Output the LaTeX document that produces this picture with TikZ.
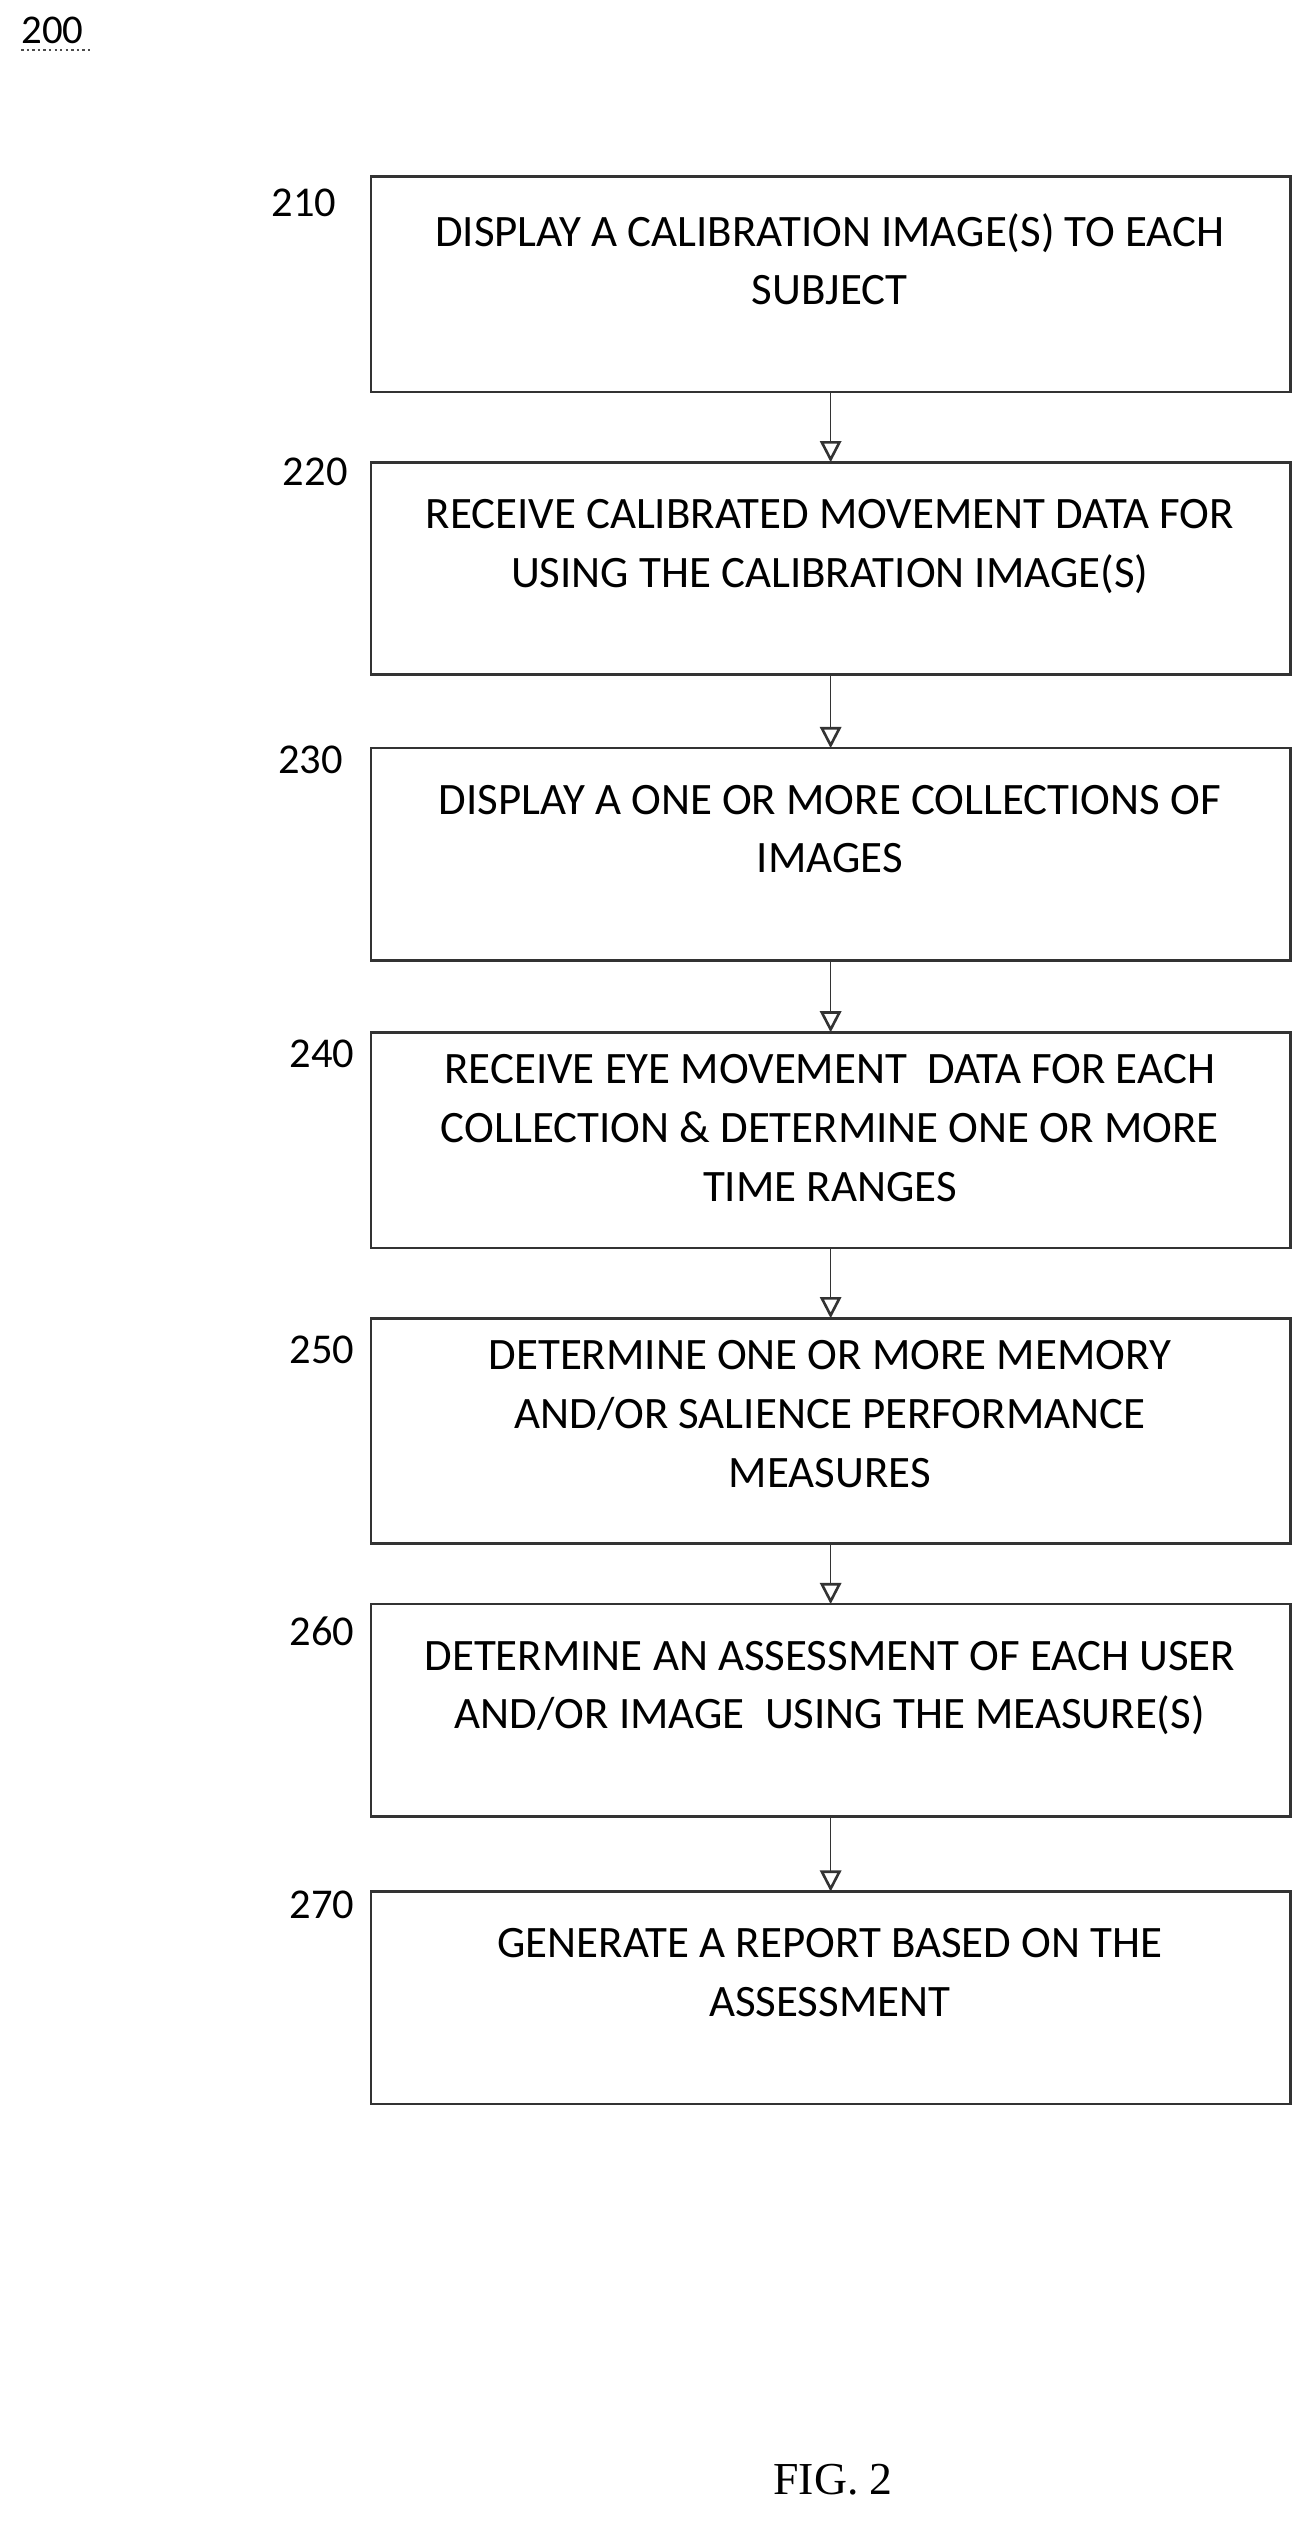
\documentclass[tikz,border=0pt]{standalone}
\usepackage{fontspec}
\setmainfont{Carlito}
\newfontfamily\timesf{Liberation Serif}
\usetikzlibrary{arrows.meta}
\begin{document}
\begin{tikzpicture}[x=1pt,y=-1pt,
  box/.style={draw=black!80,line width=1.6pt,minimum width=563pt,minimum height=#1,anchor=north west,inner sep=0pt,outer sep=0pt},
  txt/.style={align=center,font=\fontsize{27.5}{36}\selectfont,anchor=north},
  lab/.style={font=\fontsize{26}{28}\selectfont,anchor=north},
  arr/.style={draw=black!80,line width=0.9pt,-{Triangle[open,length=13pt,width=13pt,line width=1.6pt]}}]
\useasboundingbox (0,0) rectangle (800,1558);
\node[font=\fontsize{25}{27}\selectfont,anchor=north west,inner sep=0pt] (t) at (13,10) {200};
\draw[black!70,line width=1.4pt,dotted] (t.south west)++(0,4) -- ++(43,0);
\node[box=132pt] (b1) at (227,108) {};
\node[box=130pt] (b2) at (227,283) {};
\node[box=130pt] (b3) at (227,458) {};
\node[box=132pt] (b4) at (227,632) {};
\node[box=138pt] (b5) at (227,807) {};
\node[box=130pt] (b6) at (227,982) {};
\node[box=130pt] (b7) at (227,1158) {};
\node[txt] at (508,127) {DISPLAY A CALIBRATION IMAGE(S) TO EACH\\SUBJECT};
\node[txt] at (508,302) {RECEIVE CALIBRATED MOVEMENT DATA FOR\\USING THE CALIBRATION IMAGE(S)};
\node[txt] at (508,477) {DISPLAY A ONE OR MORE COLLECTIONS OF\\IMAGES};
\node[txt] at (508,642) {RECEIVE EYE MOVEMENT\ \ DATA FOR EACH\\COLLECTION \& DETERMINE ONE OR MORE\\TIME RANGES};
\node[txt] at (508,817) {DETERMINE ONE OR MORE MEMORY\\AND/OR SALIENCE PERFORMANCE\\MEASURES};
\node[txt] at (508,1001) {DETERMINE AN ASSESSMENT OF EACH USER\\AND/OR IMAGE\ \ USING THE MEASURE(S)};
\node[txt] at (508,1177) {GENERATE A REPORT BASED ON THE\\ASSESSMENT};
\node[lab] at (186,112) {210};
\node[lab] at (193,277) {220};
\node[lab] at (190,453) {230};
\node[lab] at (197,633) {240};
\node[lab] at (197,814) {250};
\node[lab] at (197,986) {260};
\node[lab] at (197,1154) {270};
\foreach \a/\b in {b1/b2,b2/b3,b3/b4,b4/b5,b5/b6,b6/b7}
  \draw[arr] (\a.south) -- (\b.north);
\node[font=\timesf\fontsize{28}{30}\selectfont,anchor=center] (f) at (510,1518) {FIG. 2};
\end{tikzpicture}
\end{document}
